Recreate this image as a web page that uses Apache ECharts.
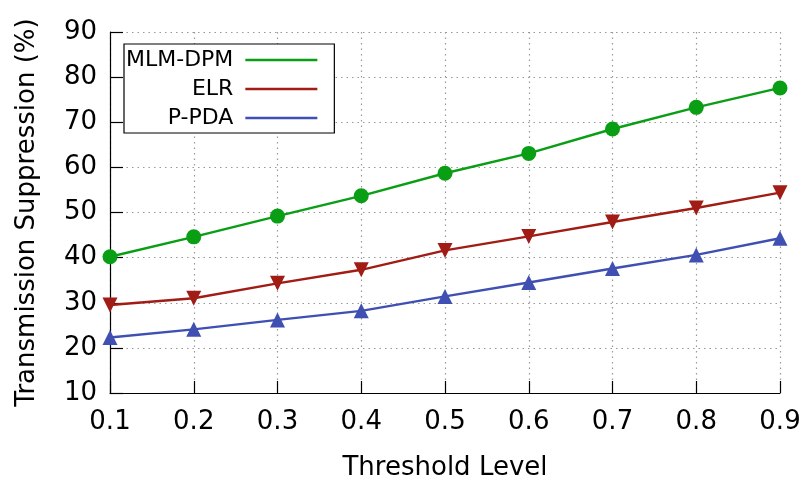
<!DOCTYPE html>
<html><head><meta charset="utf-8">
<script src="https://cdn.jsdelivr.net/npm/echarts@6/dist/echarts.min.js"></script>
<style>html,body{margin:0;padding:0;background:#fff}#c{width:809px;height:482px}</style>
</head><body><div id="c"></div>
<script>
const categories = ['0.1','0.2','0.3','0.4','0.5','0.6','0.7','0.8','0.9'];
const mlmDpm = [40.2, 44.6, 49.2, 53.7, 58.7, 63.1, 68.5, 73.3, 77.6];
const elr    = [29.5, 31.0, 34.3, 37.3, 41.6, 44.7, 47.9, 51.0, 54.4];
const pPda   = [22.3, 24.1, 26.2, 28.2, 31.4, 34.5, 37.6, 40.6, 44.3];
const yTicks = {min: 10, max: 90, interval: 10};
const FONT = 'DejaVu Sans';
const chart = echarts.init(document.getElementById('c'));
const mk = (name, data, color, symbol, size) => ({
  name, type: 'line', data, symbol, symbolSize: size,
  lineStyle: {color, width: 2.4}, itemStyle: {color}, z: 3
});
chart.setOption({
  animation: false,
  grid: {left: 110, right: 29, top: 32, bottom: 89, outerBoundsMode: 'none', containLabel: false},
  legend: {
    orient: 'vertical', left: 124, top: 44, align: 'right',
    backgroundColor: '#fff', borderColor: '#000', borderWidth: 1.2,
    padding: [5, 17, 4, 2], itemGap: 7, itemWidth: 72, itemHeight: 2.4,
    icon: 'rect',
    textStyle: {fontFamily: FONT, fontSize: 22, color: '#000', width: 113, align: 'right', padding: [0, 7, 0, 0]},
    data: ['MLM-DPM', 'ELR', 'P-PDA']
  },
  xAxis: {
    type: 'category', data: categories, boundaryGap: false,
    name: 'Threshold Level', nameLocation: 'middle', nameGap: 62,
    nameTextStyle: {fontFamily: FONT, fontSize: 26, color: '#000'},
    axisLine: {lineStyle: {color: '#000', width: 1.2}},
    axisTick: {inside: true, length: 12, lineStyle: {color: '#000', width: 1.2}},
    axisLabel: {fontFamily: FONT, fontSize: 26, color: '#000', margin: 16},
    splitLine: {show: true, lineStyle: {color: '#999', type: [1.5, 4], width: 1.2}}
  },
  yAxis: {
    type: 'value', min: yTicks.min, max: yTicks.max, interval: yTicks.interval,
    name: 'Transmission Suppression (%)', nameLocation: 'middle', nameGap: 70,
    nameTextStyle: {fontFamily: FONT, fontSize: 26, color: '#000'},
    axisLine: {show: true, lineStyle: {color: '#000', width: 1.2}},
    axisTick: {show: true, inside: true, length: 13, lineStyle: {color: '#000', width: 1.2}},
    axisLabel: {fontFamily: FONT, fontSize: 26, color: '#000', margin: 13},
    splitLine: {show: true, lineStyle: {color: '#999', type: [1.5, 4], width: 1.2}}
  },
  series: [
    mk('MLM-DPM', mlmDpm, '#0a9e14', 'circle', 15),
    mk('ELR', elr, '#a01c14', 'triangle', 15),
    mk('P-PDA', pPda, '#3f4fb2', 'triangle', 15)
  ]
});
chart.setOption({series: [{}, {symbolRotate: 180}, {}]});
</script></body></html>
